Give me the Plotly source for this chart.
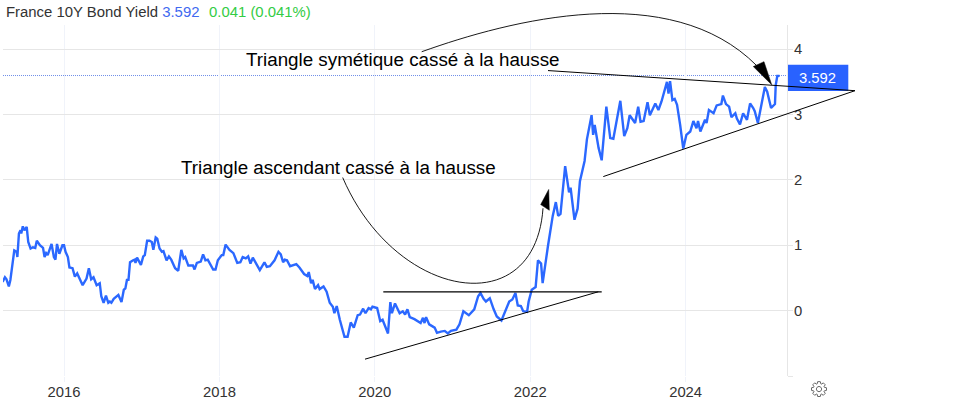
import math
import plotly.graph_objects as go

# ---- data (decimal year, yield %) ----
years = [2015.21,2015.24,2015.26,2015.29,2015.31,2015.34,2015.36,2015.39,2015.40,2015.42,2015.44,2015.45,2015.47,2015.49,2015.52,2015.54,2015.57,2015.60,2015.63,2015.65,2015.69,2015.73,2015.75,2015.77,2015.79,2015.84,2015.87,2015.89,2015.91,2015.94,2015.98,
2016.00,2016.02,2016.05,2016.07,2016.11,2016.14,2016.17,2016.20,2016.24,2016.29,2016.32,2016.35,2016.38,2016.42,2016.46,2016.48,2016.51,2016.54,2016.57,2016.59,2016.61,2016.64,2016.67,2016.70,2016.74,2016.77,2016.79,2016.81,2016.83,2016.85,2016.89,2016.91,2016.92,2016.94,2016.99,
2017.02,2017.04,2017.07,2017.10,2017.13,2017.15,2017.18,2017.20,2017.23,2017.26,2017.28,2017.32,2017.35,2017.38,2017.43,2017.47,2017.51,2017.54,2017.56,2017.60,2017.66,2017.68,2017.71,2017.76,2017.79,2017.82,2017.85,2017.92,2017.95,2017.98,
2018.03,2018.05,2018.08,2018.13,2018.18,2018.23,2018.27,2018.30,2018.34,2018.37,2018.40,2018.43,2018.48,2018.52,2018.58,2018.61,2018.65,2018.71,2018.76,2018.79,2018.82,2018.84,2018.87,2018.91,2018.99,
2019.03,2019.09,2019.13,2019.15,2019.18,2019.20,2019.23,2019.27,2019.29,2019.34,2019.38,2019.42,2019.46,2019.48,2019.51,2019.55,2019.59,2019.61,2019.65,2019.69,2019.73,2019.78,2019.81,2019.85,2019.88,2019.92,2019.95,2019.97,
2020.03,2020.07,2020.10,2020.17,2020.20,2020.22,2020.26,2020.32,2020.36,2020.39,2020.42,2020.45,2020.51,2020.56,2020.59,2020.62,2020.64,2020.66,2020.70,2020.77,2020.80,2020.85,2020.90,2020.94,2020.98,
2021.05,2021.09,2021.14,2021.18,2021.21,2021.28,2021.33,2021.36,2021.40,2021.43,2021.48,2021.53,2021.57,2021.63,2021.67,2021.73,2021.77,2021.81,2021.84,2021.88,2021.91,2021.96,2021.98,
2022.02,2022.07,2022.10,2022.14,2022.16,2022.23,2022.26,2022.29,2022.33,2022.36,2022.39,2022.45,2022.50,2022.52,2022.57,2022.61,2022.64,2022.70,2022.73,2022.79,2022.81,2022.83,2022.88,2022.92,2022.98,
2023.03,2023.07,2023.11,2023.16,2023.21,2023.25,2023.28,2023.35,2023.39,2023.42,2023.46,2023.51,2023.54,2023.61,2023.65,2023.69,2023.76,2023.78,2023.80,2023.83,2023.86,2023.89,2023.93,2023.97,
2024.01,2024.06,2024.10,2024.14,2024.16,2024.19,2024.25,2024.27,2024.30,2024.36,2024.40,2024.46,2024.48,2024.52,2024.56,2024.59,2024.64,2024.66,2024.70,2024.74,2024.79,2024.83,2024.87,2024.89,2024.93,2024.96,2024.99,
2025.02,2025.05,2025.10,2025.15,2025.16,2025.18,2025.21]
yields = [.44,.51,.48,.37,.47,.80,.92,.90,.82,1.18,1.23,1.18,1.29,1.23,1.28,1.05,.95,.97,.96,1.07,1.00,.96,.82,.88,.85,1.02,.82,.78,1.02,.87,1.00,
1.00,.90,.82,.66,.65,.52,.57,.48,.39,.49,.65,.48,.51,.39,.42,.22,.12,.23,.12,.14,.12,.18,.21,.24,.13,.32,.34,.47,.47,.74,.77,.78,.73,.81,.70,
.83,.85,1.07,1.07,1.05,.93,1.12,1.10,.95,.90,.91,.77,.83,.78,.65,.61,.93,.80,.82,.69,.69,.63,.73,.75,.86,.77,.78,.63,.63,.77,
.85,.85,1.01,.93,.88,.73,.74,.82,.80,.83,.72,.81,.70,.62,.74,.67,.68,.77,.90,.86,.74,.78,.77,.68,.71,
.66,.56,.53,.59,.42,.47,.33,.39,.33,.37,.29,.12,.06,-.04,.07,-.14,-.29,-.40,-.40,-.18,-.26,-.07,-.06,.03,-.04,.04,.02,.06,
.04,-.16,-.14,-.35,.13,-.04,.11,-.04,-.01,-.06,.02,-.10,-.13,-.17,-.19,-.11,-.19,-.10,-.21,-.26,-.34,-.32,-.31,-.35,-.31,
-.29,-.21,-.01,-.04,-.07,.02,.22,.27,.18,.14,.19,.02,-.09,-.15,-.04,.14,.17,.27,.08,.07,-.01,-.02,.14,
.32,.36,.77,.72,.42,1.00,1.25,1.45,1.66,1.45,1.48,2.21,1.81,1.88,1.39,1.56,1.98,2.29,2.62,2.99,2.69,2.84,2.49,2.30,3.12,
2.64,2.63,2.87,3.21,2.67,2.79,2.99,2.87,3.12,2.89,2.90,3.19,2.99,3.17,3.07,3.20,3.50,3.32,3.51,3.22,3.24,3.15,2.84,2.48,
2.69,2.74,2.90,2.79,2.90,2.74,2.92,2.87,3.07,3.02,3.14,3.16,3.29,3.16,3.12,2.96,3.02,2.94,2.85,3.02,2.92,3.17,3.10,3.05,2.87,3.06,3.25,
3.42,3.35,3.10,3.16,3.45,3.59,3.592]
x_ticks = [2016, 2018, 2020, 2022, 2024]
x_labels = ["2016", "2018", "2020", "2022", "2024"]
y_ticks = [-1, 0, 1, 2, 3, 4]
y_labels = ["", "0", "1", "2", "3", "4"]
last_value = 3.592
series_name = "France 10Y Bond Yield"
change_text = "0.041 (0.041%)"

# ---- layout geometry (page pixels) ----
W, H = 967, 403
L, R, T, B = 3, 787, 23, 377.3
SHIFT = 2  # the page renders 2px higher than the margins imply
X_RANGE = [2015.215, 2025.305]
Y_RANGE = [-1, 4.37]
BLUE = "#2b68ff"

def px(x):
    return (x - L) / (R - L)
def py(y):
    return (B - y) / (B - T)
def pt(x, y):
    return f"{px(x):.5f} {py(y):.5f}"

def line(x0, y0, x1, y1, width=1.0):
    return dict(type="line", xref="paper", yref="paper", x0=px(x0), y0=py(y0), x1=px(x1), y1=py(y1),
                line=dict(color="black", width=width), layer="above")
def path(d, fill=None, width=0.9, color="black"):
    return dict(type="path", xref="paper", yref="paper", path=d, fillcolor=fill or "rgba(0,0,0,0)",
                line=dict(color=color, width=width), layer="above")

# gear outline
gear = []
cx, cy = 819, 390.5
teeth = 8
for i in range(teeth):
    a = 2 * math.pi * i / teeth
    step = 2 * math.pi / teeth
    for da, r in [(-.30, 5.6), (-.16, 7.6), (.16, 7.6), (.30, 5.6)]:
        gear.append((cx + r * math.cos(a + da * step * 1.4), cy + r * math.sin(a + da * step * 1.4)))
gear_d = "M " + " L ".join(pt(*p) for p in gear) + " Z"
ring = []
for i in range(16):
    a = 2 * math.pi * i / 16
    ring.append((cx + 2.6 * math.cos(a), cy + 2.6 * math.sin(a)))
ring_d = "M " + " L ".join(pt(*p) for p in ring) + " Z"

shapes = [
    dict(type="rect", xref="paper", yref="paper", x0=px(788), x1=px(848.3), y0=py(63), y1=py(89.7),
         fillcolor="#2962ff", line=dict(width=0), layer="below"),
    dict(type="line", xref="paper", yref="paper", x0=0, x1=1, y0=py(74), y1=py(74),
         line=dict(color="#6f8fe8", width=1, dash="1px,1px"), layer="below"),
    line(383.3, 292.3, 601.7, 292.3, 1.2),
    line(365, 360.3, 598.3, 292.3),
    line(603.3, 176, 855, 89.3),
    line(548, 69, 855, 89.3),
    path(f"M {pt(342.7,177)} C {pt(395,300)} {pt(535,325)} {pt(543,208)}"),
    path(f"M {pt(540.7,204.3)} L {pt(548.7,189)} L {pt(549.3,210)} Z", fill="black", width=.5),
    path(f"M {pt(421.7,50)} C {pt(510,18)} {pt(670,-24)} {pt(756.7,64)}"),
    path(f"M {pt(753.3,65)} L {pt(771.7,83.3)} L {pt(764,60)} Z", fill="black", width=.5),
    path(gear_d, color="#666666", width=1),
    path(ring_d, color="#666666", width=1),
]

def text(x, y, s, size, color="#000000", anchor="left"):
    return dict(xref="paper", yref="paper", x=px(x), y=py(y), text=s, showarrow=False, xanchor=anchor,
                yanchor="middle", font=dict(family="Liberation Sans", size=size, color=color))

annotations = [
    text(3.5, 10, f"{series_name} <span style='color:#4169f0'>{last_value}</span>", 14.9, "#333333"),
    text(207, 10, change_text, 14.9, "#33cc44"),
    text(243.5, 58, "Triangle symétique cassé à la hausse", 18.8, "#000000"),
    text(178.5, 167, "Triangle ascendant cassé à la hausse", 18.8, "#000000"),
    text(818, 77, f"{last_value}", 14.8, "#ffffff", "center"),
]

fig = go.Figure(go.Scatter(x=years, y=yields, mode="lines", name=series_name,
                           line=dict(color=BLUE, width=2.4), hoverinfo="x+y"))
fig.update_layout(
    width=W, height=H, autosize=False, showlegend=False,
    margin=dict(l=L, r=W - R, t=T + SHIFT, b=H - B - SHIFT, pad=0),
    paper_bgcolor="white", plot_bgcolor="white",
    font=dict(family="Liberation Sans", size=14.8, color="#333333"),
    shapes=shapes, annotations=annotations,
    xaxis=dict(range=X_RANGE, tickmode="array", tickvals=x_ticks, ticktext=x_labels, showgrid=True,
               gridcolor="#f0f3fa", gridwidth=1, zeroline=False, ticks="outside", ticklen=5, tickcolor="#f0f3fa",
               showline=False, ticklabelstandoff=-3),
    yaxis=dict(range=Y_RANGE, side="right", tickmode="array", tickvals=y_ticks, ticktext=y_labels, showgrid=True,
               gridcolor="#e6e6e6", gridwidth=1, zeroline=False, ticks="outside", ticklen=5, tickcolor="#e6e6e6",
               showline=True, linecolor="#e6e6e6", linewidth=1, ticklabelstandoff=-2),
)
fig.write_html("out.html", post_script="document.body.style.margin='0';", config={"displayModeBar": False})
